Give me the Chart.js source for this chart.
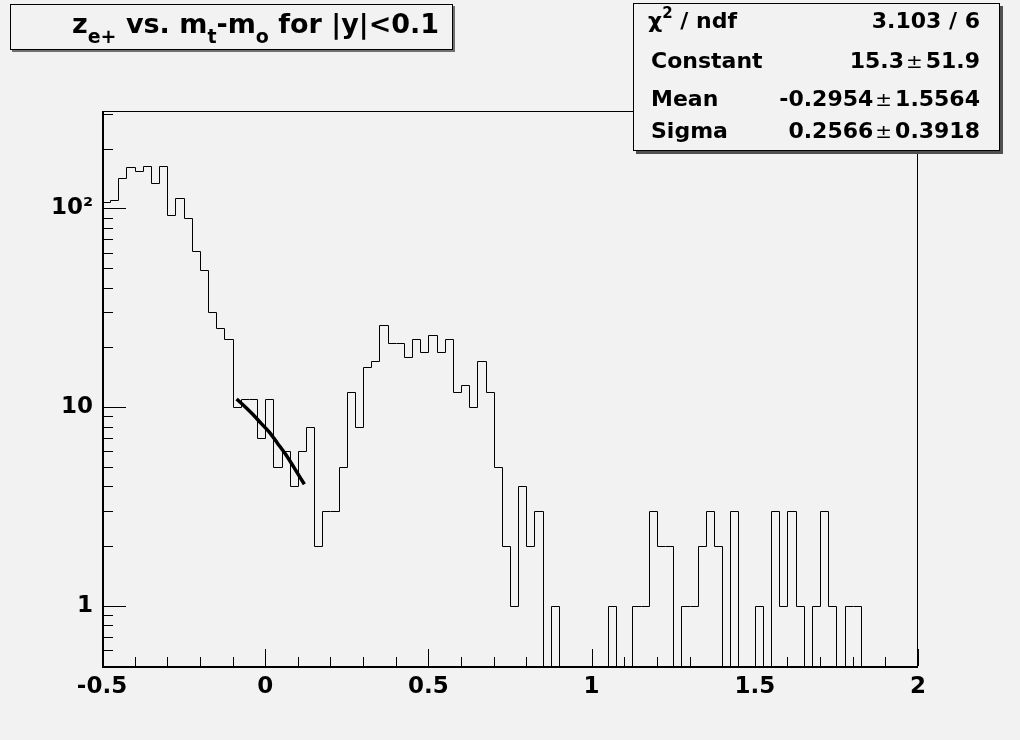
<!DOCTYPE html>
<html><head><meta charset="utf-8">
<script src="https://cdn.jsdelivr.net/npm/chart.js@4.4.1/dist/chart.umd.min.js"></script>
<style>
html,body{margin:0;padding:0;background:#f2f2f2;}
#wrap{position:relative;width:1020px;height:740px;background:#f2f2f2;overflow:hidden;}
#c{position:absolute;left:0;top:0;}
.box{position:absolute;background:#f2f2f2;border:1px solid #000;box-sizing:border-box;}
#titleBox{left:10px;top:4px;width:443px;height:46px;box-shadow:2px 2px 0 #707070;}
#statsBox{left:633px;top:3px;width:367px;height:148px;box-shadow:3px 3px 0 #505050;}
.txt{position:absolute;font-family:"DejaVu Sans",sans-serif;font-weight:bold;color:#000;white-space:nowrap;}
#titleTxt{left:72px;top:10px;font-size:27px;line-height:27px;}
.sub{font-size:19px;position:relative;top:10px;line-height:0;}
.sup{font-size:15px;position:relative;top:-10px;line-height:0;}
.lab{left:651px;font-size:22px;line-height:22px;}
.val{right:40px;font-size:22px;line-height:22px;text-align:right;}
.pm{font-weight:normal;font-size:20px;margin:0 3px 0 2px;}
</style>
</head>
<body>
<div id="wrap">
<canvas id="c" width="1020" height="740"></canvas>
<div class="box" id="titleBox"></div>
<div class="txt" id="titleTxt">z<span class="sub">e+</span> vs. m<span class="sub">t</span>-m<span class="sub">o</span> for |y|&lt;0.1</div>
<div class="box" id="statsBox"></div>
<div class="txt lab" style="top:10px;left:648px">χ<span class="sup">2</span> / ndf</div>
<div class="txt val" style="top:10px">3.103 / 6</div>
<div class="txt lab" style="top:50px">Constant</div>
<div class="txt val" style="top:50px">15.3<span class="pm">±</span>51.9</div>
<div class="txt lab" style="top:88px">Mean</div>
<div class="txt val" style="top:88px">-0.2954<span class="pm">±</span>1.5564</div>
<div class="txt lab" style="top:120px">Sigma</div>
<div class="txt val" style="top:120px">0.2566<span class="pm">±</span>0.3918</div>
</div>
<script>
// ---- data ----
const binLow = -0.5;
const binWidth = 0.025;
const counts = [
  108,110,143,161,154,163,134,163,93,113,
  90,61,49,30,25,22,10,11,11,7,
  11,5,6,4,6,8,2,3,3,5,
  12,8,16,17,26,21,21,18,22,19,
  23,19,22,12,13,10,17,12,5,2,
  1,4,2,3,0,1,0,0,0,0,
  0,0,1,0,0,1,1,3,2,2,
  0,1,1,2,3,2,0,3,0,0,
  1,0,3,1,3,1,0,1,3,1,
  0,1,1,0,0,0,0,0,0,0
];
const fitX = [-0.0875,-0.0625,-0.0375,-0.0125,0.0125,0.0375,0.0625,0.0875,0.12];
const fitY = [11.0,10.1,9.2,8.3,7.5,6.6,5.8,5.0,4.1];
const xTickValues = [-0.5,0,0.5,1,1.5,2];
const xTickLabels = ['-0.5','0','0.5','1','1.5','2'];
const yTickValues = [1,10,100];
const yTickLabels = ['1','10','10²'];
const xMin = -0.5, xMax = 2;
const yMin = 0.5, yMax = 309;

// ---- build datasets ----
const histPoints = counts.map((c,i) => ({x: binLow + i*binWidth, y: c > 0 ? c : yMin}));
histPoints.push({x: binLow + counts.length*binWidth, y: counts[counts.length-1] > 0 ? counts[counts.length-1] : yMin});
const fitPoints = fitX.map((x,i) => ({x, y: fitY[i]}));

const tickFont = {family: '"DejaVu Sans", sans-serif', weight: 'bold', size: 23};

const crispHist = {
  id: 'crispHist',
  beforeDatasetsDraw(chart) {
    const meta = chart.getDatasetMeta(0);
    meta.data.forEach(el => { el.x = Math.round(el.x) + 0.5; el.y = Math.round(el.y) + 0.5; });
    if (meta.dataset) meta.dataset._path = undefined;
  }
};

const rootFrame = {
  id: 'rootFrame',
  afterDatasetsDraw(chart) {
    const {ctx, chartArea: a, scales} = chart;
    const xs = scales.x, ys = scales.y;
    ctx.save();
    ctx.strokeStyle = '#000';
    ctx.lineWidth = 1;
    ctx.strokeRect(Math.round(a.left)+0.5, Math.round(a.top)+0.5, Math.round(a.right-a.left)-1, Math.round(a.bottom-a.top));
    ctx.lineWidth = 2;
    ctx.beginPath();
    ctx.moveTo(Math.round(a.left)+1, Math.round(a.top));
    ctx.lineTo(Math.round(a.left)+1, Math.round(a.bottom)+1);
    ctx.lineTo(Math.round(a.right), Math.round(a.bottom)+1);
    ctx.stroke();
    ctx.lineWidth = 1;
    ctx.beginPath();
    for (let k = 0; k <= 25; k++) {
      const v = xMin + k*0.1;
      const px = Math.round(xs.getPixelForValue(v)) + 0.5;
      const len = (k % 5 === 0) ? 17 : 9;
      ctx.moveTo(px, a.bottom);
      ctx.lineTo(px, a.bottom - len);
    }
    for (let d = 0.1; d <= yMax; d *= 10) {
      for (let m = 1; m <= 9; m++) {
        const v = m*d;
        if (v < yMin*0.999 || v > yMax) continue;
        const py = Math.round(ys.getPixelForValue(v)) + 0.5;
        const len = (m === 1) ? 24 : 11;
        ctx.moveTo(a.left, py);
        ctx.lineTo(a.left + len, py);
      }
    }
    ctx.stroke();
    ctx.restore();
  }
};

new Chart(document.getElementById('c'), {
  type: 'line',
  data: {
    datasets: [
      {data: histPoints, stepped: 'before', borderColor: '#000', borderWidth: 1, pointRadius: 0, fill: false},
      {data: fitPoints, borderColor: '#000', borderWidth: 3.5, pointRadius: 0, fill: false, cubicInterpolationMode: 'monotone'}
    ]
  },
  options: {
    responsive: false,
    animation: false,
    devicePixelRatio: 1,
    layout: {padding: {left: 0, right: 102, top: 111, bottom: 0}},
    plugins: {legend: {display: false}, tooltip: {enabled: false}, title: {display: false}},
    scales: {
      x: {
        type: 'linear', min: xMin, max: xMax,
        grid: {display: false, drawTicks: false},
        border: {display: false},
        afterBuildTicks: s => { s.ticks = xTickValues.map(v => ({value: v})); },
        afterFit: s => { s.height = 74; },
        ticks: {autoSkip: false, maxRotation: 0, padding: 7, color: '#000', font: tickFont,
          callback: (v, i) => xTickLabels[i]}
      },
      y: {
        type: 'logarithmic', min: yMin, max: yMax,
        grid: {display: false, drawTicks: false},
        border: {display: false},
        afterBuildTicks: s => { s.ticks = yTickValues.map(v => ({value: v})); },
        afterFit: s => { s.width = 102; },
        ticks: {autoSkip: false, padding: 9, color: '#000', font: tickFont,
          callback: (v, i) => yTickLabels[i]}
      }
    }
  },
  plugins: [crispHist, rootFrame]
});
</script>
</body></html>
